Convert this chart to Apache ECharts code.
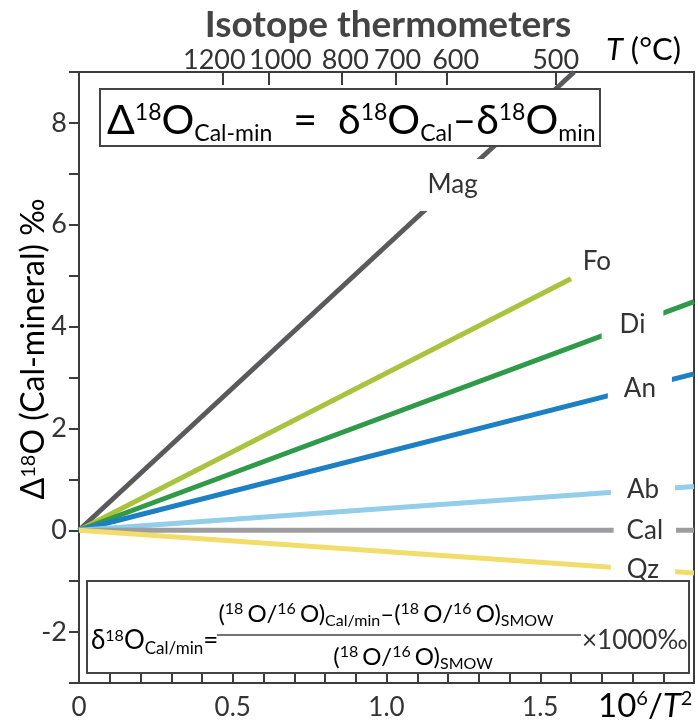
<!DOCTYPE html>
<html><head><meta charset="utf-8">
<script src="https://cdn.jsdelivr.net/npm/echarts@6/dist/echarts.min.js"></script>
<style>html,body{margin:0;padding:0;background:#fff}#c{width:698px;height:727px}</style>
</head><body><div id="c"></div>
<script>
const FONT = 'Lato, "Open Sans", sans-serif';

// ---- data ----
const mineralNames = ['Mag', 'Fo', 'Di', 'An', 'Ab', 'Cal', 'Qz'];
const magLine = [[0, 0], [1.61, 9.0]];
const foLine  = [[0, 0], [1.60, 4.94]];
const diLine  = [[0, 0], [2.0, 4.49]];
const anLine  = [[0, 0], [2.0, 3.07]];
const abLine  = [[0, 0], [2.0, 0.86]];
const calLine = [[0, 0], [2.0, 0.0]];
const qzLine  = [[0, 0], [2.0, -0.84]];
const labelX = [1.215, 1.684, 1.80, 1.824, 1.834, 1.84, 1.834];
const labelY = [6.78, 5.27, 4.03, 2.79, 0.79, 0.0, -0.77];
const topTempLabels = ['1200', '1000', '800', '700', '600', '500'];
const topTickPos  = [0.466, 0.616, 0.853, 1.029, 1.195, 1.55];
const topLabelPos = [0.44, 0.655, 0.866, 1.036, 1.225, 1.55];
const bottomLabelVals = [0, 0.5, 1.0, 1.5];
const bottomLabelText = ['0', '0.5', '1.0', '1.5'];
const yLabelVals = [-2, 0, 2, 4, 6, 8];

// ---- styles ----
const lineColors = { Mag: '#5a5a5c', Fo: '#a9c33e', Di: '#2f9a48', An: '#1c80c2', Ab: '#92cdea', Cal: '#9d9d9f', Qz: '#f1de6a' };
const lineData = { Mag: magLine, Fo: foLine, Di: diLine, An: anLine, Ab: abLine, Cal: calLine, Qz: qzLine };
const labelPadding = { Mag: [4, 10, 18, 10], Fo: [0, 2], Di: [2, 18], An: [2, 16], Ab: [2, 16], Cal: [2, 13], Qz: [2, 16] };
const AX = '#3c3c3c';
const TXT = '#333';

const lineSeries = mineralNames.map(n => ({
  type: 'line', name: n, data: lineData[n], showSymbol: false, symbol: 'none',
  lineStyle: { width: 5, color: lineColors[n], cap: 'butt', opacity: 1 }, itemStyle: { color: lineColors[n] },
  z: 2, silent: true, animation: false, emphasis: { disabled: true }
}));

const labelSeries = {
  type: 'scatter', symbolSize: 0, z: 5, silent: true, animation: false,
  itemStyle: { opacity: 1, color: '#fff' }, emphasis: { disabled: true },
  data: mineralNames.map((n, i) => ({
    name: n, value: [labelX[i], labelY[i]],
    label: { padding: labelPadding[n] }
  })),
  label: {
    show: true, position: 'inside', formatter: '{b}', fontSize: 26, color: TXT, opacity: 1,
    fontFamily: FONT, backgroundColor: '#fff', lineHeight: 30
  }
};

const supSub = (main, lh, sup, sub, supPad, subPad) => ({
  m: { fontSize: main, lineHeight: lh, fontFamily: FONT, color: TXT },
  i: { fontSize: main, lineHeight: lh, fontFamily: FONT, color: TXT, fontStyle: 'italic' },
  sup: { fontSize: sup, lineHeight: sup + 4, verticalAlign: 'top', padding: [supPad, 0, 0, 0], fontFamily: FONT, color: TXT },
  sub: { fontSize: sub, lineHeight: sub + 4, verticalAlign: 'bottom', padding: [0, 0, subPad, 0], fontFamily: FONT, color: TXT }
});

const chart = echarts.init(document.getElementById('c'));
chart.setOption({
  backgroundColor: '#fff',
  animation: false,
  title: {
    text: 'Isotope thermometers', left: 383, textAlign: 'center', top: 2,
    textStyle: { fontSize: 37, fontWeight: 'bold', color: '#444', fontFamily: FONT }
  },
  grid: { left: 79, right: 4, top: 72, bottom: 44, outerBoundsMode: 'none', containLabel: false },
  xAxis: [{
    type: 'value', position: 'bottom', min: 0, max: 2, interval: 0.1,
    axisLine: { show: true, onZero: false, lineStyle: { color: AX, width: 2 } },
    axisTick: { show: true, inside: true, length: 10, lineStyle: { color: AX, width: 2 } },
    axisLabel: {
      customValues: bottomLabelVals, margin: 12, fontSize: 26, color: TXT, fontFamily: FONT,
      formatter: v => bottomLabelText[bottomLabelVals.indexOf(v)] ?? ''
    },
    splitLine: { show: false }
  }, {
    type: 'value', position: 'top', min: 0, max: 2,
    axisLine: { show: true, onZero: false, lineStyle: { color: AX, width: 2 } },
    axisTick: { show: true, inside: true, length: 13, customValues: topTickPos, lineStyle: { color: AX, width: 2 } },
    axisLabel: {
      customValues: topLabelPos, margin: -2, fontSize: 27, color: TXT, fontFamily: FONT,
      formatter: v => topTempLabels[topLabelPos.indexOf(v)] ?? ''
    },
    splitLine: { show: false }
  }],
  yAxis: [{
    type: 'value', position: 'left', min: -3, max: 9, interval: 1,
    axisLine: { show: true, onZero: false, lineStyle: { color: AX, width: 2 } },
    axisTick: { show: true, inside: false, length: 10, lineStyle: { color: AX, width: 2 } },
    axisLabel: { customValues: yLabelVals, margin: 12, fontSize: 27, color: TXT, fontFamily: FONT },
    splitLine: { show: false }
  }, {
    type: 'value', position: 'right', min: -3, max: 9, interval: 1,
    axisLine: { show: true, onZero: false, lineStyle: { color: AX, width: 2 } },
    axisTick: { show: false }, axisLabel: { show: false }, splitLine: { show: false }
  }],
  series: [...lineSeries, labelSeries],
  graphic: [
    { type: 'rect', z: 100, shape: { x: 100, y: 89, width: 500, height: 57 }, style: { fill: '#fff', stroke: '#444', lineWidth: 2 } },
    { type: 'text', z: 101, x: 107, y: 121, style: {
        text: '{m|Δ}{sup|18}{m|O}{sub|Cal-min}{m|  =  δ}{sup|18}{m|O}{sub|Cal}{m|–δ}{sup|18}{m|O}{sub|min}',
        align: 'left', verticalAlign: 'middle', fontFamily: FONT,
        rich: supSub(41, 52, 23, 23, 6, 2) } },
    { type: 'rect', z: 100, shape: { x: 87, y: 581, width: 602, height: 92 }, style: { fill: '#fff', stroke: '#444', lineWidth: 2 } },
    { type: 'text', z: 101, x: 91, y: 641, style: {
        text: '{m|δ}{sup|18}{m|O}{sub|Cal/min}{m|=}', align: 'left', verticalAlign: 'middle', fontFamily: FONT,
        rich: supSub(26, 32, 16, 17, 3, 0) } },
    { type: 'text', z: 101, x: 386, y: 614, style: {
        text: '{m|(}{sup|18 }{m|O/}{sup|16 }{m|O)}{sub|Cal/min}{m|–(}{sup|18 }{m|O/}{sup|16 }{m|O)}{sub|SMOW}',
        align: 'center', verticalAlign: 'middle', fontFamily: FONT,
        rich: supSub(24, 30, 16, 16, 2, 0) } },
    { type: 'line', z: 101, shape: { x1: 217, y1: 635, x2: 581, y2: 635 }, style: { stroke: '#444', lineWidth: 1.5 } },
    { type: 'text', z: 101, x: 413, y: 657, style: {
        text: '{m|(}{sup|18 }{m|O/}{sup|16 }{m|O)}{sub|SMOW}',
        align: 'center', verticalAlign: 'middle', fontFamily: FONT,
        rich: supSub(24, 30, 16, 16, 2, 0) } },
    { type: 'text', z: 101, x: 582, y: 641, style: {
        text: '×1000‰', align: 'left', verticalAlign: 'middle', fontSize: 26, fontFamily: FONT, fill: TXT } },
    { type: 'text', z: 101, x: 34, y: 349, rotation: Math.PI / 2, style: {
        text: '{m|Δ}{sup|18}{m|O (Cal-mineral) ‰}', align: 'center', verticalAlign: 'middle', fontFamily: FONT,
        rich: supSub(32, 38, 20, 20, 4, 0) } },
    { type: 'text', z: 101, x: 606, y: 50, style: {
        text: '{i|T}{m| (°C)}', align: 'left', verticalAlign: 'middle', fontFamily: FONT,
        rich: supSub(31, 36, 20, 20, 0, 0) } },
    { type: 'text', z: 101, x: 598, y: 706, style: {
        text: '{m|10}{sup|6}{m|/}{i|T}{sup|2}', align: 'left', verticalAlign: 'middle', fontFamily: FONT,
        rich: supSub(33, 38, 20, 20, 2, 0) } }
  ]
});
</script></body></html>
